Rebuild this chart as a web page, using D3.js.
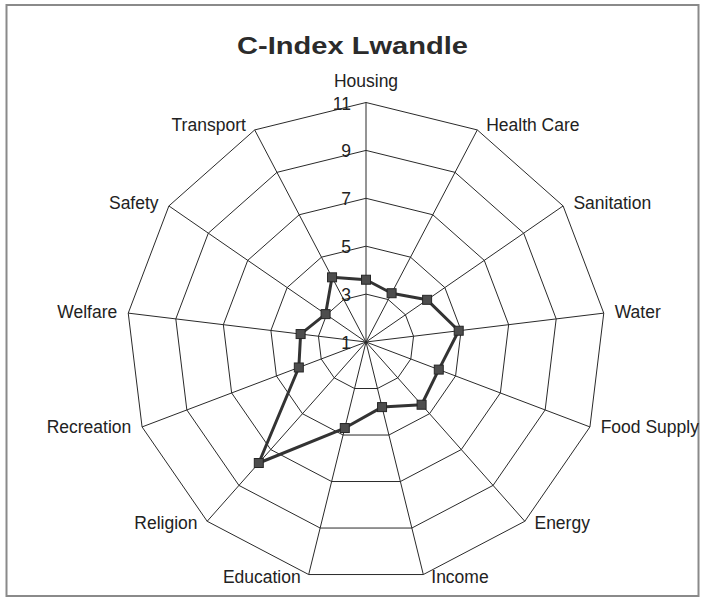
<!DOCTYPE html>
<html>
<head>
<meta charset="utf-8">
<script src="https://cdn.jsdelivr.net/npm/d3@7"></script>
<style>
  html, body { margin: 0; padding: 0; background: #fff; }
  svg { display: block; font-family: "Liberation Sans", Arial, sans-serif; }
</style>
</head>
<body>
<div id="chart"></div>
<script>
// categories clockwise from the top
const categories = ['Housing', 'Health Care', 'Sanitation', 'Water', 'Food Supply', 'Energy',
  'Income', 'Education', 'Religion', 'Recreation', 'Welfare', 'Safety', 'Transport'];
const values = [3.6, 3.3, 4.1, 4.9, 4.25, 4.5, 3.8, 4.7, 7.75, 4.0, 3.75, 3.05, 4.05];
const ticks = [1, 3, 5, 7, 9, 11];

const W = 704, H = 599;
const cx = 366, cy = 342, R = 239.5;

const svg = d3.select('#chart').append('svg')
  .attr('width', W)
  .attr('height', H);

// frame
svg.append('rect')
  .attr('x', 6.5).attr('y', 5)
  .attr('width', 692).attr('height', 591)
  .attr('fill', 'none')
  .attr('stroke', '#8a8a8a')
  .attr('stroke-width', 2);

svg.append('text')
  .attr('x', 352.5)
  .attr('y', 53.5)
  .attr('text-anchor', 'middle')
  .attr('font-size', 23)
  .attr('font-weight', 700)
  .attr('fill', '#2b2b2b')
  .attr('textLength', 231)
  .attr('lengthAdjust', 'spacingAndGlyphs')
  .text('C-Index Lwandle');

const r = d3.scaleLinear().domain([1, 11]).range([0, R]);
const angle = d3.scalePoint().domain(categories).range([0, 2 * Math.PI * (1 - 1 / categories.length)]);

const pt = (cat, v) => {
  const a = angle(cat);
  return [cx + r(v) * Math.sin(a), cy - r(v) * Math.cos(a)];
};

const g = svg.append('g');

// rings
g.selectAll('polygon.ring')
  .data(ticks.slice(1))
  .enter()
  .append('polygon')
  .attr('class', 'ring')
  .attr('points', t => categories.map(c => pt(c, t).join(',')).join(' '))
  .attr('fill', 'none')
  .attr('stroke', '#2a2a2a')
  .attr('stroke-width', 1);

// spokes
g.selectAll('line.spoke')
  .data(categories)
  .enter()
  .append('line')
  .attr('class', 'spoke')
  .attr('x1', cx).attr('y1', cy)
  .attr('x2', c => pt(c, 11)[0])
  .attr('y2', c => pt(c, 11)[1])
  .attr('stroke', '#2a2a2a')
  .attr('stroke-width', 1);

// tick labels
g.selectAll('text.tick')
  .data(ticks)
  .enter()
  .append('text')
  .attr('class', 'tick')
  .attr('x', cx - 15)
  .attr('y', t => cy - r(t) + 7)
  .attr('text-anchor', 'end')
  .attr('font-size', 17.5)
  .attr('fill', '#222')
  .text(t => t);

// category labels
g.selectAll('text.cat')
  .data(categories)
  .enter()
  .append('text')
  .attr('class', 'cat')
  .each(function (c) {
    const a = angle(c);
    const s = Math.sin(a), co = Math.cos(a);
    const [vx, vy] = pt(c, 11);
    const el = d3.select(this);
    if (Math.abs(s) < 0.05) {
      el.attr('x', vx).attr('y', vy - 16).attr('text-anchor', 'middle');
    } else {
      const gap = 7 + 4 * Math.abs(s);
      el.attr('x', vx + (s > 0 ? gap : -gap))
        .attr('y', vy - 1 - 4 * co + 6)
        .attr('text-anchor', s > 0 ? 'start' : 'end');
    }
  })
  .attr('font-size', 17.5)
  .attr('fill', '#222')
  .text(c => c);

// series
const line = d3.line().curve(d3.curveLinearClosed);
g.append('path')
  .attr('d', line(categories.map((c, i) => pt(c, values[i]))))
  .attr('fill', 'none')
  .attr('stroke', '#333')
  .attr('stroke-width', 3)
  .attr('stroke-linejoin', 'round');

g.selectAll('rect.marker')
  .data(categories)
  .enter()
  .append('rect')
  .attr('class', 'marker')
  .attr('x', (c, i) => pt(c, values[i])[0] - 4.5)
  .attr('y', (c, i) => pt(c, values[i])[1] - 4.5)
  .attr('width', 9)
  .attr('height', 9)
  .attr('fill', '#4d4d4d')
  .attr('stroke', '#262626')
  .attr('stroke-width', 1);
</script>
</body>
</html>
